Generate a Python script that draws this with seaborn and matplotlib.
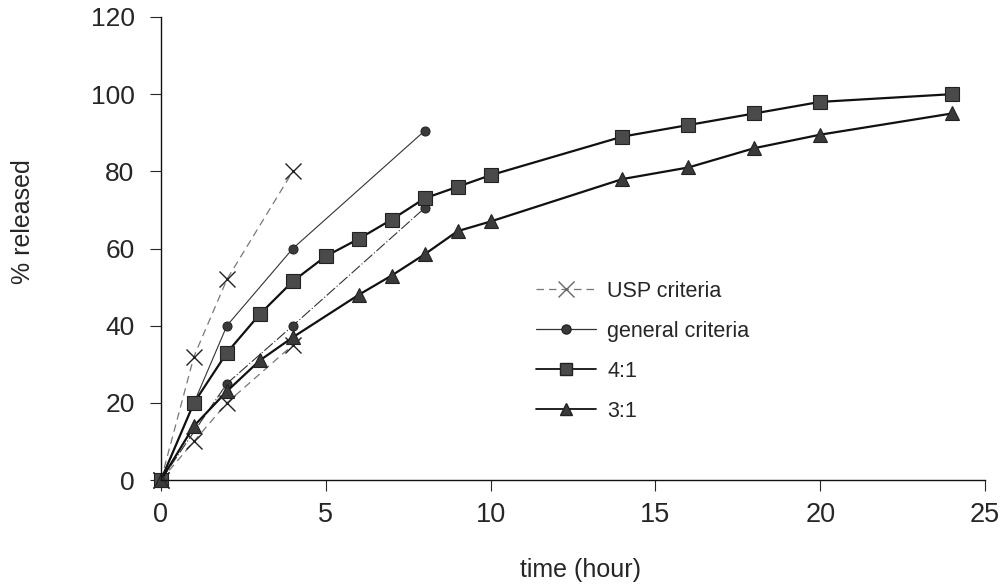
import matplotlib
matplotlib.use("Agg")
import matplotlib.pyplot as plt
from matplotlib.lines import Line2D
import seaborn as sns
import pandas as pd

# ---- data ----
usp_upper_t = [0, 1, 2, 4]
usp_upper_v = [0, 32, 52, 80]
usp_lower_t = [0, 1, 2, 4]
usp_lower_v = [0, 10, 20, 35]

gen_upper_t = [0, 2, 4, 8]
gen_upper_v = [0, 40, 60, 90.5]
gen_lower_t = [0, 2, 4, 8]
gen_lower_v = [0, 25, 40, 70.5]

r41_t = [0, 1, 2, 3, 4, 5, 6, 7, 8, 9, 10, 14, 16, 18, 20, 24]
r41_v = [0, 20, 33, 43, 51.5, 58, 62.5, 67.5, 73, 76, 79, 89, 92, 95, 98, 100]

r31_t = [0, 1, 2, 3, 4, 6, 7, 8, 9, 10, 14, 16, 18, 20, 24]
r31_v = [0, 14, 23, 31, 37, 48, 53, 58.5, 64.5, 67, 78, 81, 86, 89.5, 95]

legend_labels = ["USP criteria", "general criteria", "4:1", "3:1"]
x_ticks = [0, 5, 10, 15, 20, 25]
y_ticks = [0, 20, 40, 60, 80, 100, 120]

sns.set_style("ticks")
plt.rcParams["font.family"] = ["Liberation Sans", "DejaVu Sans"]

fig = plt.figure(figsize=(10.02, 5.84), dpi=100)
ax = fig.add_axes([161 / 1002, 1 - 480 / 584, 824 / 1002, 463 / 584])

def draw(t, v, **kw):
    df = pd.DataFrame({"t": t, "v": v})
    sns.lineplot(data=df, x="t", y="v", ax=ax, legend=False, errorbar=None,
                 clip_on=False, **kw)

usp_kw = dict(color="#777777", linewidth=0.9, linestyle=(0, (6, 4)), marker="x",
              markersize=11, markeredgewidth=1.0, markeredgecolor="#222222")
draw(usp_upper_t, usp_upper_v, **usp_kw)
draw(usp_lower_t, usp_lower_v, **usp_kw)

gen_kw = dict(color="#333333", linewidth=0.8, marker="o", markersize=6.5,
              markerfacecolor="#3a3a3a", markeredgecolor="#222222")
draw(gen_upper_t, gen_upper_v, linestyle="-", **gen_kw)
draw(gen_lower_t, gen_lower_v, linestyle=(0, (10, 2, 1, 2)), **gen_kw)

draw(r41_t, r41_v, color="#111111", linewidth=1.6, marker="s", markersize=10,
     markerfacecolor="#4a4a4a", markeredgecolor="#222222", markeredgewidth=0.8)
draw(r31_t, r31_v, color="#111111", linewidth=1.6, marker="^", markersize=10,
     markerfacecolor="#3a3a3a", markeredgecolor="#222222", markeredgewidth=0.8)

ax.set_xlim(0, 25)
ax.set_ylim(0, 120)
ax.set_xticks(x_ticks)
ax.set_yticks(y_ticks)
ax.tick_params(axis="x", labelsize=19.5, length=8, width=0.8, pad=8, direction="out")
ax.tick_params(axis="y", labelsize=19, length=8, width=0.8, pad=11, direction="out")
for s in ["top", "right"]:
    ax.spines[s].set_visible(False)
for s in ["left", "bottom"]:
    ax.spines[s].set_color("#111111")
    ax.spines[s].set_linewidth(1.0)

ax.set_xlabel("time (hour)", fontsize=18)
ax.set_ylabel("% released", fontsize=18)
ax.xaxis.set_label_coords((580 - 161) / 824, (480 - 570) / 463)
ax.xaxis.label.set_va("center")
ax.yaxis.set_label_coords((23 - 161) / 824, (480 - 222) / 463)
ax.yaxis.label.set_va("center")

handles = [
    Line2D([], [], color="#777777", linewidth=0.9, linestyle=(0, (6, 4)), marker="x",
           markersize=11, markeredgecolor="#666666"),
    Line2D([], [], color="#333333", linewidth=0.9, marker="o", markersize=6.5,
           markerfacecolor="#3a3a3a", markeredgecolor="#222222"),
    Line2D([], [], color="#111111", linewidth=1.3, marker="s", markersize=9,
           markerfacecolor="#4a4a4a", markeredgecolor="#222222"),
    Line2D([], [], color="#111111", linewidth=1.3, marker="^", markersize=9,
           markerfacecolor="#3a3a3a", markeredgecolor="#222222"),
]
fig.legend(handles, legend_labels, loc="upper left",
           bbox_to_anchor=(536 / 1002, 1 - 281 / 584), frameon=False,
           fontsize=15.5, handlelength=2.8, handletextpad=0.5,
           labelspacing=0.88, borderpad=0, borderaxespad=0)

fig.savefig("out.png", dpi=100)
